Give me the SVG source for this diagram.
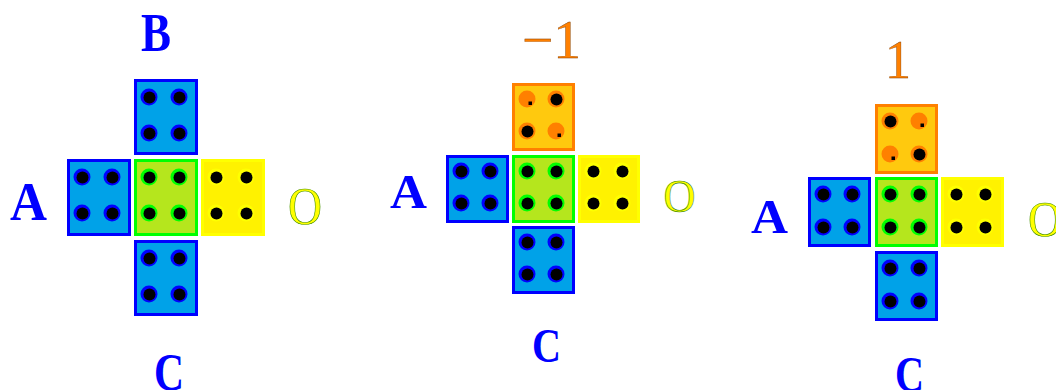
<svg xmlns="http://www.w3.org/2000/svg" xmlns:xlink="http://www.w3.org/1999/xlink" width="1056" height="390" viewBox="0 0 1056 390">
<style>
.sq{stroke-width:3}
.blue{fill:#00A2E8;stroke:#0000FF}
.green{fill:#B5E61D;stroke:#00FF00}
.yellow{fill:#FFF200;stroke:#FFFF00}
.orange{fill:#FFC90E;stroke:#FF8000}
.lbl{font-family:"Liberation Serif",serif;font-weight:bold;fill:#0000FF;text-anchor:middle}
.num{font-family:"Liberation Serif",serif;fill:#FF8000;stroke:#7A3A00;stroke-width:0.4;text-anchor:middle}
.ring{font-family:"Liberation Serif",serif;fill:#FFFF00;stroke:#3C8C00;stroke-width:0.6;text-anchor:middle}
</style>
<defs>
<g id="dB"><circle r="8.5" fill="#0000FF"/><circle cx="0.5" cy="0.5" r="6" fill="#000"/></g>
<g id="dG"><circle r="8.5" fill="#00FF00"/><circle cx="0.5" cy="0.5" r="6" fill="#000"/></g>
<g id="dY"><circle r="8.5" fill="#FFFF00"/><circle cx="0.5" cy="0.5" r="6" fill="#000"/></g>
<g id="dO"><circle r="8.5" fill="#FF8000"/><circle cx="0.5" cy="0.5" r="6" fill="#000"/></g>
<g id="dOs"><circle r="8.5" fill="#FF8000"/><rect x="1.5" y="2.5" width="3.5" height="3.5" fill="#000"/></g>
</defs>

<g id="left-cluster">
<g id="L-top"><rect class="sq blue" x="135.5" y="80.5" width="61" height="73"/>
<use xlink:href="#dB" x="149" y="97"/><use xlink:href="#dB" x="179" y="97"/><use xlink:href="#dB" x="149" y="133"/><use xlink:href="#dB" x="179" y="133"/></g>
<g id="L-left"><rect class="sq blue" x="68.5" y="160.5" width="61" height="74"/>
<use xlink:href="#dB" x="82" y="177"/><use xlink:href="#dB" x="112" y="177"/><use xlink:href="#dB" x="82" y="213"/><use xlink:href="#dB" x="112" y="213"/></g>
<g id="L-center"><rect class="sq green" x="135.5" y="160.5" width="61" height="74"/>
<use xlink:href="#dG" x="149" y="177"/><use xlink:href="#dG" x="179" y="177"/><use xlink:href="#dG" x="149" y="213"/><use xlink:href="#dG" x="179" y="213"/></g>
<g id="L-right"><rect class="sq yellow" x="202.5" y="160.5" width="61" height="74"/>
<use xlink:href="#dY" x="216" y="177"/><use xlink:href="#dY" x="246" y="177"/><use xlink:href="#dY" x="216" y="213"/><use xlink:href="#dY" x="246" y="213"/></g>
<g id="L-bottom"><rect class="sq blue" x="135.5" y="241.5" width="61" height="73"/>
<use xlink:href="#dB" x="149" y="258"/><use xlink:href="#dB" x="179" y="258"/><use xlink:href="#dB" x="149" y="294"/><use xlink:href="#dB" x="179" y="294"/></g>
<text class="lbl" x="156" y="51" font-size="54" textLength="30" lengthAdjust="spacingAndGlyphs">B</text>
<text class="lbl" x="28.5" y="220" font-size="54" textLength="37" lengthAdjust="spacingAndGlyphs">A</text>
<text class="lbl" x="169" y="390" font-size="52" textLength="30" lengthAdjust="spacingAndGlyphs">C</text>
<text class="ring" x="305" y="224" font-size="52" textLength="34" lengthAdjust="spacingAndGlyphs">O</text>
</g>

<g id="middle-cluster">
<g id="M-top"><rect class="sq orange" x="513.5" y="84.5" width="60" height="65"/>
<use xlink:href="#dOs" x="527" y="99"/><use xlink:href="#dO" x="556" y="99"/><use xlink:href="#dO" x="527" y="131"/><use xlink:href="#dOs" x="556" y="131"/></g>
<g id="M-left"><rect class="sq blue" x="447.5" y="156.5" width="60" height="65"/>
<use xlink:href="#dB" x="461" y="171"/><use xlink:href="#dB" x="490" y="171"/><use xlink:href="#dB" x="461" y="203"/><use xlink:href="#dB" x="490" y="203"/></g>
<g id="M-center"><rect class="sq green" x="513.5" y="156.5" width="60" height="65"/>
<use xlink:href="#dG" x="527" y="171"/><use xlink:href="#dG" x="556" y="171"/><use xlink:href="#dG" x="527" y="203"/><use xlink:href="#dG" x="556" y="203"/></g>
<g id="M-right"><rect class="sq yellow" x="579.5" y="156.5" width="59" height="65"/>
<use xlink:href="#dY" x="593" y="171"/><use xlink:href="#dY" x="622" y="171"/><use xlink:href="#dY" x="593" y="203"/><use xlink:href="#dY" x="622" y="203"/></g>
<g id="M-bottom"><rect class="sq blue" x="513.5" y="227.5" width="60" height="65"/>
<use xlink:href="#dB" x="527" y="242"/><use xlink:href="#dB" x="556" y="242"/><use xlink:href="#dB" x="527" y="274"/><use xlink:href="#dB" x="556" y="274"/></g>
<text class="num" x="551.5" y="58" font-size="54" textLength="59" lengthAdjust="spacingAndGlyphs">−1</text>
<text class="lbl" x="408.5" y="208" font-size="48" textLength="37" lengthAdjust="spacingAndGlyphs">A</text>
<text class="lbl" x="546.5" y="362" font-size="48" textLength="29" lengthAdjust="spacingAndGlyphs">C</text>
<text class="ring" x="679.5" y="212" font-size="46" textLength="32" lengthAdjust="spacingAndGlyphs">O</text>
</g>

<g id="right-cluster">
<g id="R-top"><rect class="sq orange" x="876.5" y="105.5" width="60" height="67"/>
<use xlink:href="#dO" x="890" y="121"/><use xlink:href="#dOs" x="919" y="121"/><use xlink:href="#dOs" x="890" y="154"/><use xlink:href="#dO" x="919" y="154"/></g>
<g id="R-left"><rect class="sq blue" x="809.5" y="178.5" width="60" height="67"/>
<use xlink:href="#dB" x="823" y="194"/><use xlink:href="#dB" x="852" y="194"/><use xlink:href="#dB" x="823" y="227"/><use xlink:href="#dB" x="852" y="227"/></g>
<g id="R-center"><rect class="sq green" x="876.5" y="178.5" width="60" height="67"/>
<use xlink:href="#dG" x="890" y="194"/><use xlink:href="#dG" x="919" y="194"/><use xlink:href="#dG" x="890" y="227"/><use xlink:href="#dG" x="919" y="227"/></g>
<g id="R-right"><rect class="sq yellow" x="942.5" y="178.5" width="60" height="67"/>
<use xlink:href="#dY" x="956" y="194"/><use xlink:href="#dY" x="985" y="194"/><use xlink:href="#dY" x="956" y="227"/><use xlink:href="#dY" x="985" y="227"/></g>
<g id="R-bottom"><rect class="sq blue" x="876.5" y="252.5" width="60" height="67"/>
<use xlink:href="#dB" x="890" y="268"/><use xlink:href="#dB" x="919" y="268"/><use xlink:href="#dB" x="890" y="301"/><use xlink:href="#dB" x="919" y="301"/></g>
<text class="num" x="898" y="78" font-size="54" textLength="26" lengthAdjust="spacingAndGlyphs">1</text>
<text class="lbl" x="769.5" y="233" font-size="49" textLength="37" lengthAdjust="spacingAndGlyphs">A</text>
<text class="lbl" x="909.5" y="391" font-size="50" textLength="29" lengthAdjust="spacingAndGlyphs">C</text>
<text class="ring" x="1045" y="236" font-size="50" textLength="34" lengthAdjust="spacingAndGlyphs">O</text>
</g>
</svg>
